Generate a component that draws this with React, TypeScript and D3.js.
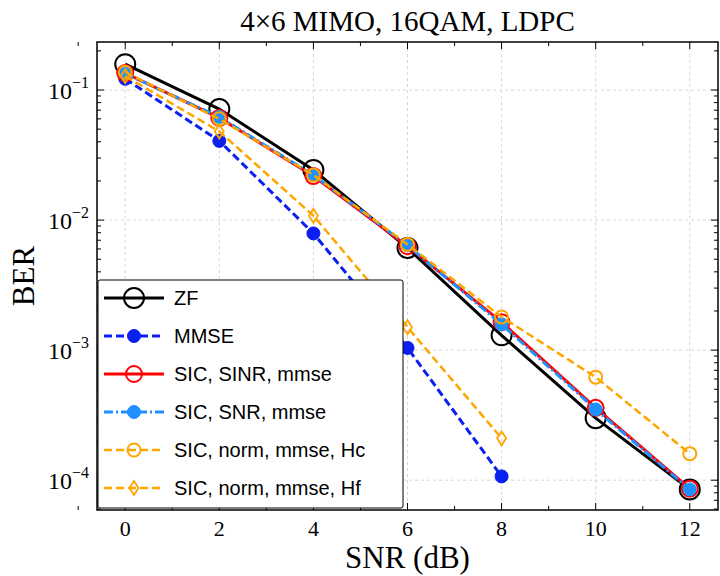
import React from 'react';
import * as d3 from 'd3';

const snr = [0, 2, 4, 6, 8, 10, 12];
const zf = [0.158, 0.0714, 0.0243, 0.0061, 0.0013, 0.0003, 0.000085];
const mmse = [0.122, 0.0406, 0.0079, 0.00104, 0.000107];
const sicSinr = [0.135, 0.061, 0.0218, 0.0063, 0.00164, 0.00036, 0.000086];
const sicSnr = [0.134, 0.062, 0.0222, 0.0064, 0.00158, 0.00035, 0.000085];
const sicHc = [0.137, 0.06, 0.0222, 0.0065, 0.0018, 0.00062, 0.00016];
const sicHf = [0.128, 0.048, 0.0108, 0.0015, 0.00021];
const xTicks = [0, 2, 4, 6, 8, 10, 12];
const yDecades = [-4, -3, -2, -1];

const W = 720, H = 576;
const m = { left: 97, right: 718, top: 42, bottom: 510 };
const x = d3.scaleLinear().domain([-0.6, 12.6]).range([m.left, m.right]);
const y = d3.scaleLog().domain([5.9e-5, 0.234]).range([m.bottom, m.top]);
const font = '"Liberation Serif", "Times New Roman", serif';
const sans = '"Liberation Sans", Arial, sans-serif';

type S = { name: string; data: number[]; color: string; dash: string; marker: string; r: number; fill: string; sw: number };
const series: S[] = [
  { name: 'ZF', data: zf, color: '#000', dash: '', marker: 'circle', r: 10, fill: 'none', sw: 3 },
  { name: 'MMSE', data: mmse, color: '#0a1ff0', dash: '8,4', marker: 'circle', r: 6.5, fill: '#0a1ff0', sw: 3 },
  { name: 'SIC, SINR, mmse', data: sicSinr, color: '#ff0000', dash: '', marker: 'circle', r: 8, fill: 'none', sw: 3 },
  { name: 'SIC, SNR, mmse', data: sicSnr, color: '#1e90ff', dash: '9,3,2,3', marker: 'circle', r: 6.5, fill: '#1e90ff', sw: 3 },
  { name: 'SIC, norm, mmse, Hc', data: sicHc, color: '#ffa500', dash: '8,4', marker: 'circle', r: 6.5, fill: 'none', sw: 2.5 },
  { name: 'SIC, norm, mmse, Hf', data: sicHf, color: '#ffa500', dash: '8,4', marker: 'diamond', r: 6.5, fill: 'none', sw: 2.5 },
];

const Marker = ({ s, cx, cy }: { s: S; cx: number; cy: number }) =>
  s.marker === 'circle' ? (
    <circle cx={cx} cy={cy} r={s.r} fill={s.fill === 'none' ? 'none' : s.fill} stroke={s.color} strokeWidth={s.fill === 'none' ? 2 : 1} />
  ) : (
    <path d={`M${cx},${cy - 7}L${cx + 4.5},${cy}L${cx},${cy + 7}L${cx - 4.5},${cy}Z`} fill="none" stroke={s.color} strokeWidth={1.8} />
  );

export default function App() {
  const line = d3.line<number>().x((_, i) => x(snr[i])).y(d => y(d));
  const minor: number[] = [];
  yDecades.concat([-5]).forEach(e => { for (let k = 2; k <= 9; k++) { const v = k * 10 ** e; if (v > 5.9e-5 && v < 0.234) minor.push(v); } });
  return (
    <svg width={W} height={H} style={{ display: 'block', position: 'absolute', left: 0, top: 0, background: '#fff' }} fontFamily={font}>
      <clipPath id="c"><rect x={m.left} y={m.top} width={m.right - m.left} height={m.bottom - m.top} /></clipPath>
      {xTicks.map(t => <line key={t} x1={x(t)} x2={x(t)} y1={m.top} y2={m.bottom} stroke="#ccc" strokeDasharray="3,3" strokeWidth={0.8} />)}
      {yDecades.map(e => <line key={e} x1={m.left} x2={m.right} y1={y(10 ** e)} y2={y(10 ** e)} stroke="#ccc" strokeDasharray="3,3" strokeWidth={0.8} />)}
      <g clipPath="url(#c)">
        {series.map(s => (
          <g key={s.name}>
            <path d={line(s.data) || ''} fill="none" stroke={s.color} strokeWidth={s.sw} strokeDasharray={s.dash} />
            {s.data.map((v, i) => <Marker key={i} s={s} cx={x(snr[i])} cy={y(v)} />)}
          </g>
        ))}
      </g>
      <rect x={m.left} y={m.top} width={m.right - m.left} height={m.bottom - m.top} fill="none" stroke="#000" strokeWidth={1.5} />
      {xTicks.map(t => (
        <g key={t}>
          <line x1={x(t)} x2={x(t)} y1={m.bottom} y2={m.bottom - 7} stroke="#000" />
          <line x1={x(t)} x2={x(t)} y1={m.top} y2={m.top + 7} stroke="#000" />
          <text x={x(t)} y={m.bottom + 26} textAnchor="middle" fontSize={22}>{t}</text>
        </g>
      ))}
      {[-1, 1, 3, 5, 7, 9, 11].map(t => (
        <g key={t}>
          <line x1={x(t)} x2={x(t)} y1={m.bottom} y2={m.bottom - 4} stroke="#000" />
          <line x1={x(t)} x2={x(t)} y1={m.top} y2={m.top + 4} stroke="#000" />
        </g>
      ))}
      {yDecades.map(e => (
        <g key={e}>
          <line x1={m.left} x2={m.left + 7} y1={y(10 ** e)} y2={y(10 ** e)} stroke="#000" />
          <line x1={m.right} x2={m.right - 7} y1={y(10 ** e)} y2={y(10 ** e)} stroke="#000" />
          <text x={m.left - 8} y={y(10 ** e) + 9} textAnchor="end" fontSize={24}>10<tspan dy={-11} fontSize={16}>{`\u2212${-e}`}</tspan></text>
        </g>
      ))}
      {minor.map(v => (
        <g key={v}>
          <line x1={m.left} x2={m.left + 4} y1={y(v)} y2={y(v)} stroke="#000" />
          <line x1={m.right} x2={m.right - 4} y1={y(v)} y2={y(v)} stroke="#000" />
        </g>
      ))}
      <text x={(m.left + m.right) / 2} y={31} textAnchor="middle" fontSize={29}>4×6 MIMO, 16QAM, LDPC</text>
      <text x={(m.left + m.right) / 2} y={568} textAnchor="middle" fontSize={31}>SNR (dB)</text>
      <text transform={`translate(34,${(m.top + m.bottom) / 2}) rotate(-90)`} textAnchor="middle" fontSize={31}>BER</text>
      <g fontFamily={sans}>
        <rect x={98} y={280} width={305} height={228} fill="#fff" stroke="#000" strokeWidth={1} rx={2} />
        {series.map((s, i) => {
          const cy = 298 + i * 38;
          return (
            <g key={s.name}>
              <line x1={104} x2={164} y1={cy} y2={cy} stroke={s.color} strokeWidth={s.sw} strokeDasharray={s.dash} />
              <Marker s={s} cx={134} cy={cy} />
              <text x={174} y={cy + 7} fontSize={20}>{s.name}</text>
            </g>
          );
        })}
      </g>
    </svg>
  );
}
